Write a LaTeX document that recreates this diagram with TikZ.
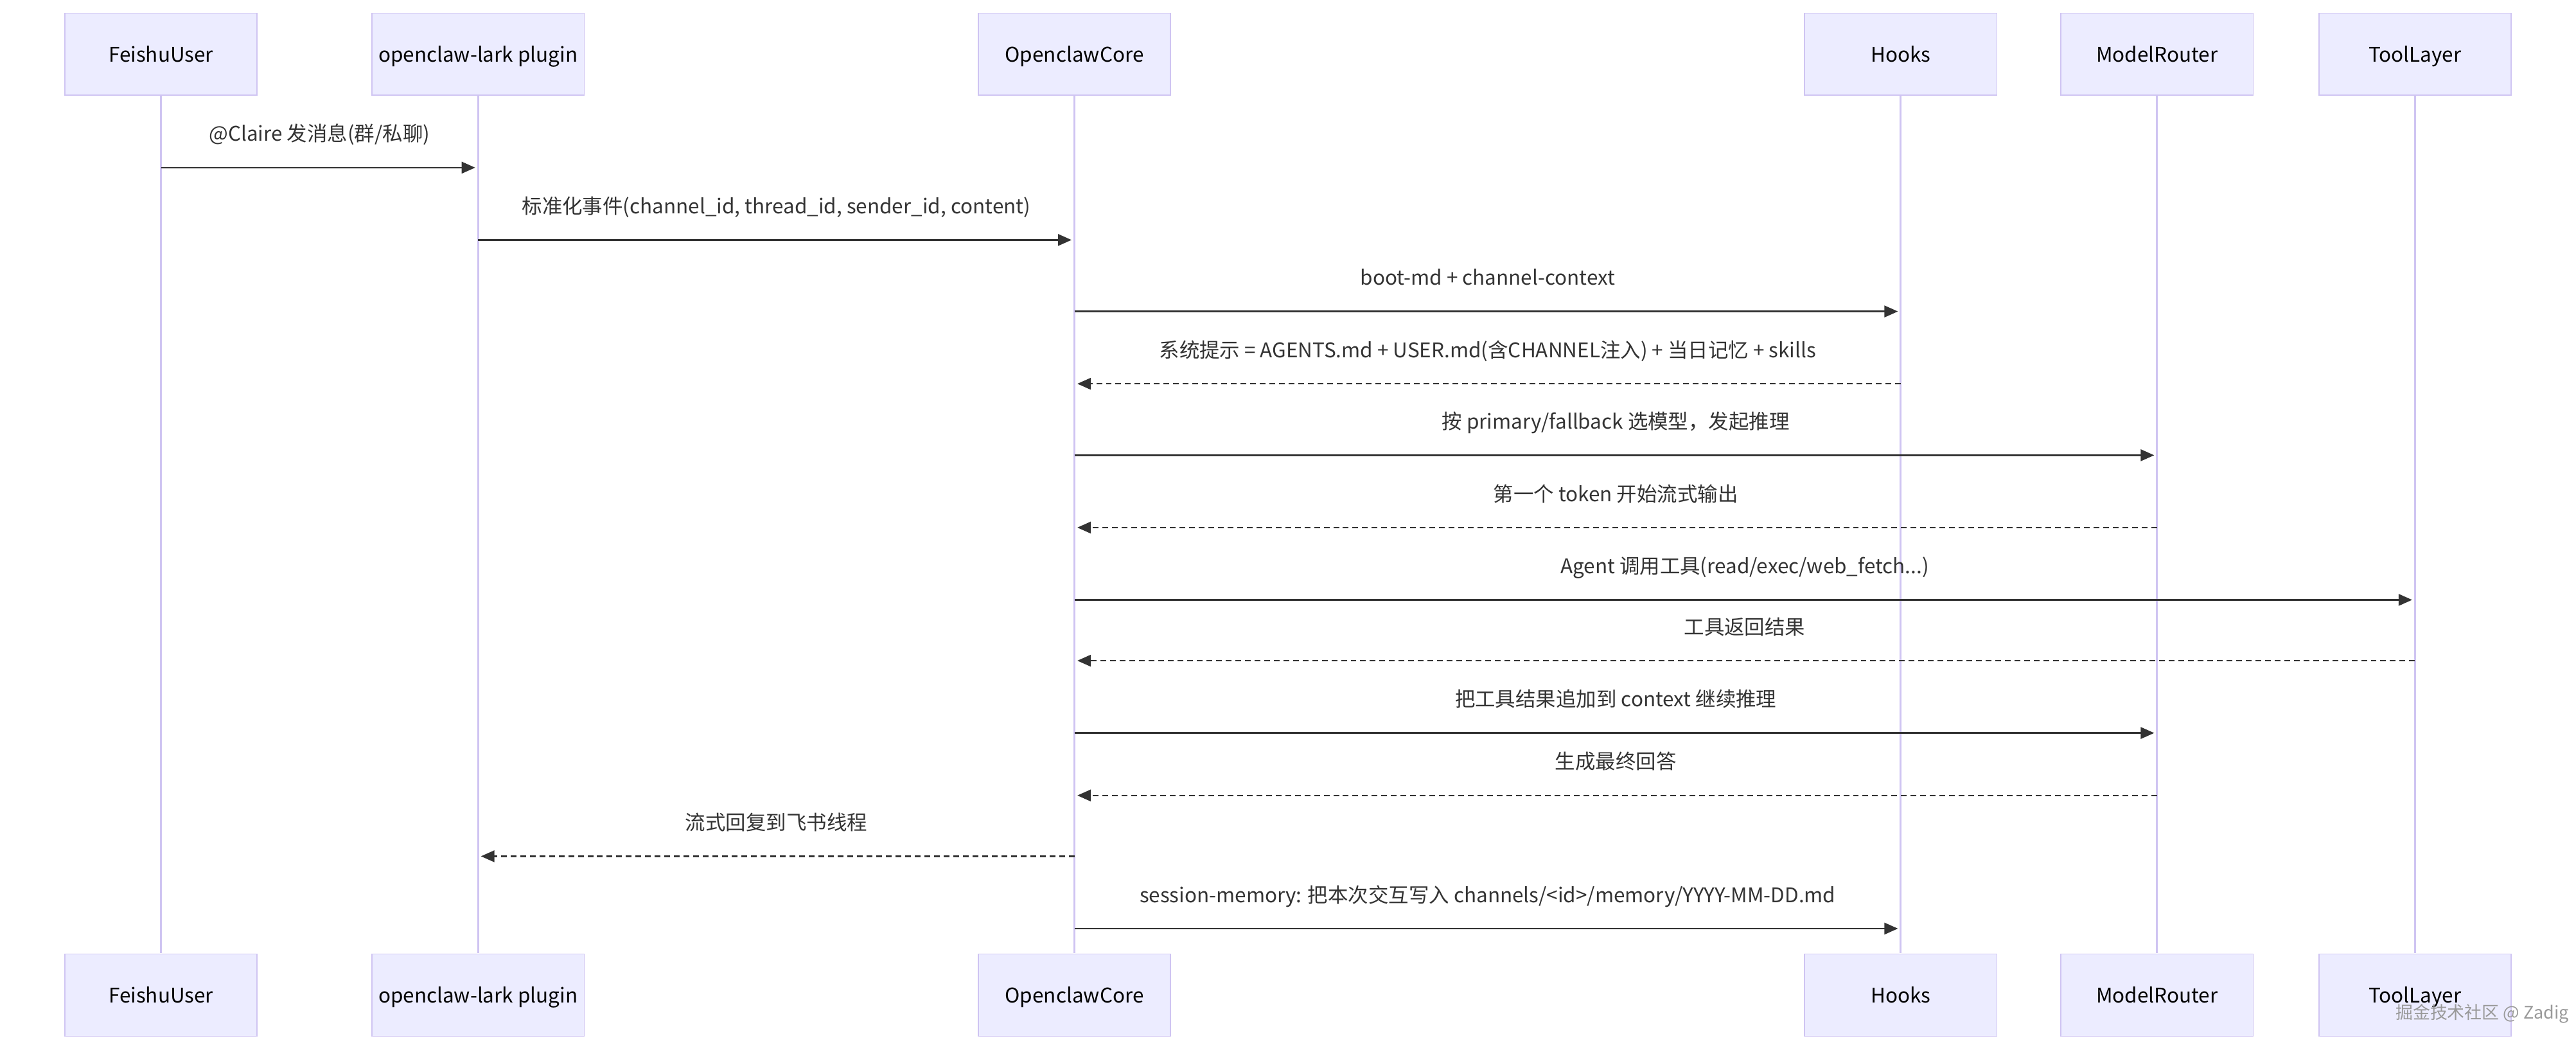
\documentclass[tikz,border=0pt]{standalone}
\usepackage{fontspec}
\setmainfont{Noto Sans CJK SC}
\usetikzlibrary{arrows.meta,calc}
\definecolor{actbg}{HTML}{ECECFF}
\definecolor{actbd}{HTML}{CFC4F2}
\definecolor{ink}{HTML}{333333}
\begin{document}
\begin{tikzpicture}[x=0.03cm,y=-0.03cm,
  actor/.style={draw=actbd,fill=actbg,line width=0.6pt,minimum width=3.51cm,minimum height=1.5cm,font=\fontsize{10.5}{13}\selectfont,text=black,text height=8pt,text depth=0pt},
  life/.style={draw=actbd,line width=1pt},
  msg/.style={draw=ink,line width=0.8pt,-{Triangle[length=7pt,width=6pt]}},
  ret/.style={msg,dash pattern=on 3pt off 2pt},
  lbl/.style={font=\fontsize{10.5}{13}\selectfont,text=ink,anchor=base}]
\useasboundingbox (0,0) rectangle (1568,640);
\fill[white] (0,0) rectangle (1568,640);
\foreach \n/\x/\t in {fu/98/FeishuUser,lp/291/openclaw-lark plugin,oc/654/OpenclawCore,hk/1157/Hooks,mr/1313/ModelRouter,tl/1470/ToolLayer}{
  \draw[life] (\x,58) -- (\x,580);
  \node[actor] (\n t) at (\x,33) {\t};
  \node[actor] (\n b) at (\x,605.5) {\t};
}
\newcommand\mymsg[6]{% name, style, from, to, y, text
  \coordinate (#1a) at (#3t.center |- 0,#5);
  \coordinate (#1b) at (#4t.center |- 0,#5);
  \draw[#2] (#1a) -- ($(#1b)!1.5pt!(#1a)$);
  \node[lbl] (#1l) at ($(#1a)!0.5!(#1b)+(0,-16)$) {#6};}
\mymsg{m1}{msg}{fu}{lp}{102}{@Claire 发消息(群/私聊)}
\mymsg{m2}{msg}{lp}{oc}{146}{标准化事件(channel\_id, thread\_id, sender\_id, content)}
\mymsg{m3}{msg}{oc}{hk}{189.5}{boot-md + channel-context}
\mymsg{m4}{ret}{hk}{oc}{233.5}{系统提示 = AGENTS.md + USER.md(含CHANNEL注入) + 当日记忆 + skills}
\mymsg{m5}{msg}{oc}{mr}{277}{按 primary/fallback 选模型，发起推理}
\mymsg{m6}{ret}{mr}{oc}{321}{第一个 token 开始流式输出}
\mymsg{m7}{msg}{oc}{tl}{365}{Agent 调用工具(read/exec/web\_fetch...)}
\mymsg{m8}{ret}{tl}{oc}{402}{工具返回结果}
\mymsg{m9}{msg}{oc}{mr}{446}{把工具结果追加到 context 继续推理}
\mymsg{m10}{ret}{mr}{oc}{484}{生成最终回答}
\mymsg{m11}{ret}{oc}{lp}{521}{流式回复到飞书线程}
\mymsg{m12}{msg}{oc}{hk}{565}{session-memory: 把本次交互写入 channels/<id>/memory/YYYY-MM-DD.md}
\node[font=\fontsize{9}{10}\selectfont,text=gray!80,anchor=south east,inner sep=1pt] (wm) at (1565,624) {掘金技术社区 @ Zadig};
\end{tikzpicture}
\end{document}
